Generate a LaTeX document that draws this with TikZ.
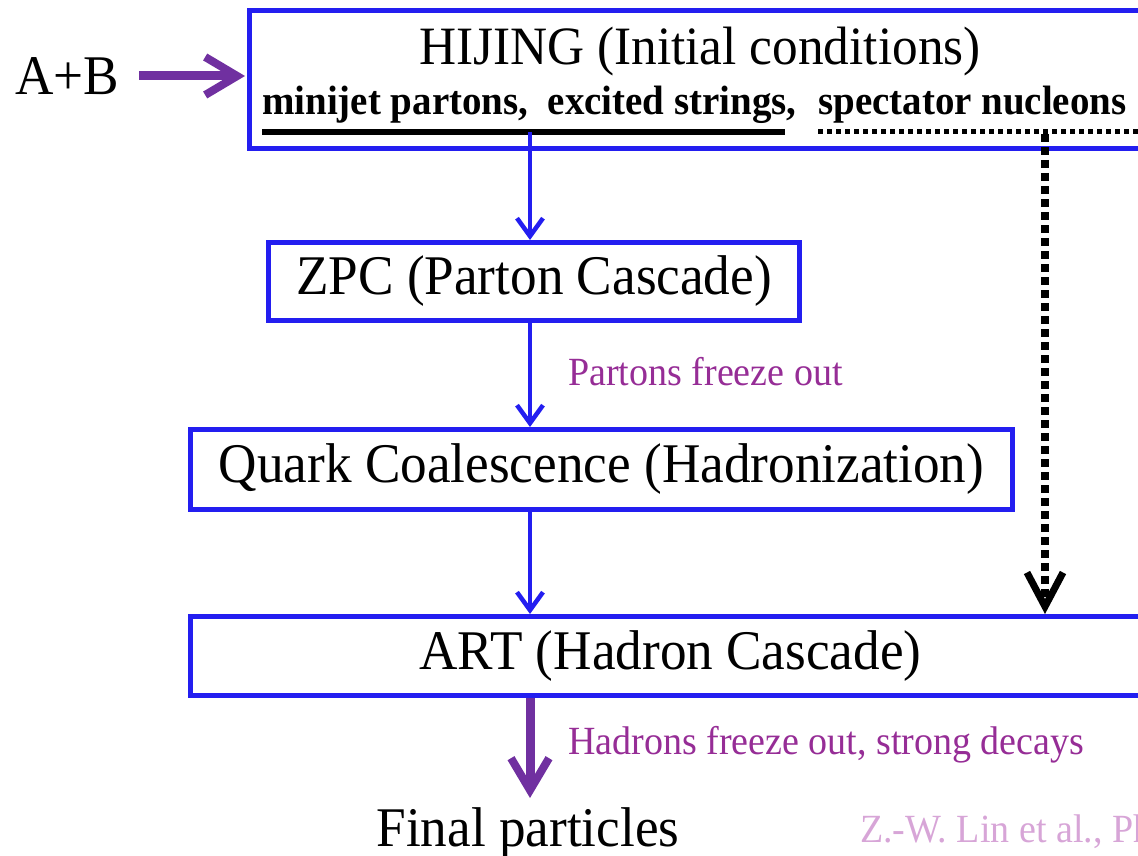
\documentclass[tikz,border=0pt]{standalone}
\usepackage{fontspec}
\setmainfont{Liberation Serif}[FakeStretch=0.95]
\usetikzlibrary{arrows.meta}
\definecolor{boxblue}{RGB}{35,30,240}
\definecolor{flowpurple}{RGB}{112,48,160}
\definecolor{labelpurple}{RGB}{150,45,150}
\definecolor{citepink}{RGB}{215,165,215}
\begin{document}
\begin{tikzpicture}[x=1pt,y=-1pt,
  stage/.style={draw=boxblue,line width=5pt,inner sep=0pt,anchor=north west,
    font=\fontsize{56}{62}\selectfont},
  bigtext/.style={inner sep=0pt,font=\fontsize{56}{62}\selectfont},
  subtext/.style={inner sep=0pt,anchor=base west,font=\fontsize{41}{46}\selectfont\bfseries},
  note/.style={inner sep=0pt,anchor=west,text=labelpurple,font=\fontsize{40}{46}\selectfont},
  bluearrow/.style={draw=boxblue,line width=4.5pt,
    -{Straight Barb[length=18pt,width=26pt,line width=4.5pt]}},
  purplearrow/.style={draw=flowpurple,line width=9pt,
    -{Straight Barb[length=32pt,width=38pt,line width=8pt]}},
  spectator/.style={draw=black,line width=8pt,dash pattern=on 8pt off 5pt,
    -{Straight Barb[length=34pt,width=36pt,line width=7pt]}},
]
\useasboundingbox (0,0) rectangle (1138,856);
\clip (0,0) rectangle (1138,856);

% stage boxes
\node[stage,minimum width=913pt,minimum height=138pt] (hijing) at (247,8) {};
\node[stage,minimum width=531pt,minimum height=78pt] (zpc) at (266,240) {ZPC (Parton Cascade)};
\node[stage,minimum width=822pt,minimum height=80pt] (quark) at (188,427) {Quark Coalescence (Hadronization)};
\node[stage,minimum width=960pt,minimum height=79pt] (art) at (188,614) {ART (Hadron Cascade)};

% initial-condition contents
\node[bigtext,font=\fontsize{54}{60}\selectfont,anchor=base] (hijtitle) at (700,65) {HIJING (Initial conditions)};
\node[subtext] (partons) at (262,115) {minijet partons,\ \ excited strings,};
\node[subtext] (spect) at (818,115) {spectator nucleons};
\coordinate (ulA) at (262,132);
\coordinate (ulB) at (785,132);
\coordinate (ulC) at (818,132);
\coordinate (ulD) at (1160,132);
\draw[line width=6pt] (ulA) -- (ulB);
\draw[line width=5pt,dash pattern=on 5pt off 4pt] (ulC) -- (ulD);
\coordinate (src) at (530,132);
\coordinate (spsrc) at (1045,134);

% incoming nuclei
\node[bigtext] (ab) at (67,76) {A+B};
\coordinate (abend) at (245,76);
\draw[purplearrow] (ab.east) ++(20,0) -- (abend);

% flow between stages
\draw[bluearrow] (src) -- (src |- zpc.north);
\draw[bluearrow] (zpc.south -| src) -- (quark.north -| src);
\draw[bluearrow] (quark.south -| src) -- (art.north -| src);
\draw[spectator] (spsrc) -- (spsrc |- art.north);

\node[note] (pfo) at (568,372) {Partons freeze out};

% final stage
\node[bigtext,anchor=base] (final) at (528,846) {Final particles};
\coordinate (finalend) at (530,798);
\draw[purplearrow] (art.south -| src) -- (finalend);
\node[note] (hfo) at (568,745) {Hadrons freeze out, strong decays};
\node[note,anchor=base west,text=citepink] (cite) at (860,842) {Z.-W. Lin et al., Phys. Rev. C 72, 064901 (2005)};
\end{tikzpicture}
\end{document}
